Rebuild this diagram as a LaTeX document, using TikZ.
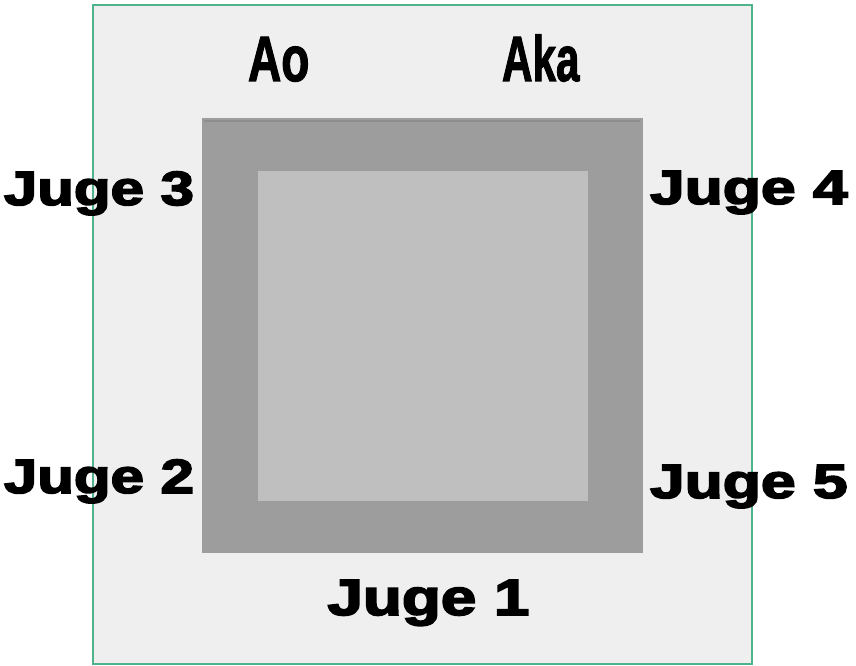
\documentclass[tikz,border=0pt]{standalone}
\usepackage{fontspec}
\newfontfamily\heavy[FakeBold=3.2]{Liberation Sans Bold}
\newfontfamily\cond[FakeBold=2]{Liberation Sans Bold}
\definecolor{pagebg}{HTML}{EFEFEF}
\definecolor{frameline}{HTML}{4FB48C}
\definecolor{darkmat}{HTML}{9D9D9D}
\definecolor{darkedge}{HTML}{8E8E8E}
\definecolor{innermat}{HTML}{BFBFBF}
\tikzset{
  judge/.style={inner sep=0pt, outer sep=0pt, text=black, font=\heavy\fontsize{48}{48}\selectfont},
  bigjudge/.style={inner sep=0pt, outer sep=0pt, text=black, font=\heavy\fontsize{51}{51}\selectfont},
  side/.style={inner sep=0pt, outer sep=0pt, text=black, font=\cond\fontsize{64}{64}\selectfont},
}
\begin{document}
\begin{tikzpicture}[x=1pt,y=-1pt]
\useasboundingbox (0,0) rectangle (856,666);
\fill[white] (0,0) rectangle (856,666);
% outer area
\path[fill=pagebg, draw=frameline, line width=1.8pt] (93,5) rectangle (752,664);
% mats
\fill[darkmat] (202,118) rectangle (643,553);
\draw[darkedge, line width=2pt] (204,121) -- (640,121);
\fill[innermat] (258,171) rectangle (588,501);
% labels
\node[side, anchor=base west] (ao) at (248,81) {\scalebox{0.72}[1]{Ao}};
\node[side, anchor=base west] (aka) at (502,81) {\scalebox{0.66}[1]{Aka}};
\node[judge, anchor=base east] (j3) at (194,205) {\scalebox{1.25}[1]{Juge 3}};
\node[judge, anchor=base east] (j2) at (194,493) {\scalebox{1.25}[1]{Juge 2}};
\node[judge, anchor=base west] (j4) at (650,204) {\scalebox{1.3}[1]{Juge 4}};
\node[judge, anchor=base west] (j5) at (650,498) {\scalebox{1.3}[1]{Juge 5}};
\node[bigjudge, anchor=base] (j1) at (428.5,615) {\scalebox{1.25}[1]{Juge 1}};
\end{tikzpicture}
\end{document}
